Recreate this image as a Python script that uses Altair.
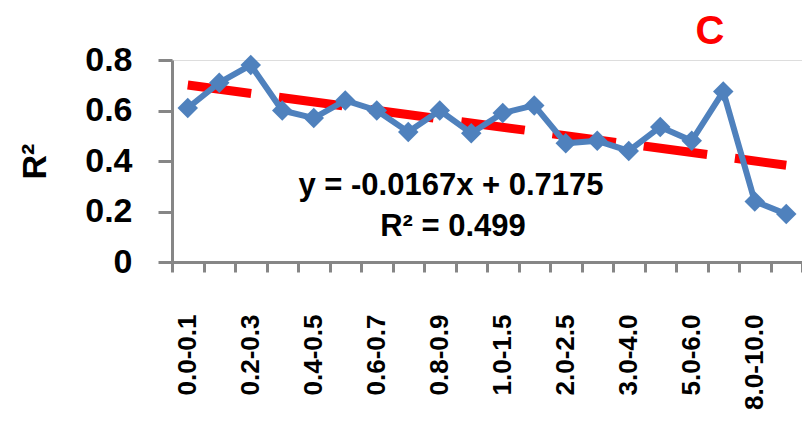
import altair as alt
import pandas as pd

cats = ["0.0-0.1", "0.1-0.2", "0.2-0.3", "0.3-0.4", "0.4-0.5", "0.5-0.6",
        "0.6-0.7", "0.7-0.8", "0.8-0.9", "0.9-1.0", "1.0-1.5", "1.5-2.0",
        "2.0-2.5", "2.5-3.0", "3.0-4.0", "4.0-5.0", "5.0-6.0", "6.0-8.0",
        "8.0-10.0", ">10.0"]
r2 = [0.61, 0.71, 0.78, 0.60, 0.57, 0.64, 0.60, 0.515, 0.60, 0.51,
      0.59, 0.62, 0.47, 0.48, 0.44, 0.535, 0.48, 0.675, 0.24, 0.19]
slope = -0.0167
intercept = 0.7175
eq_lines = ["y = -0.0167x + 0.7175", "R² = 0.499"]
panel_label = "C"
shown_labels = cats[::2]

df = pd.DataFrame({"cat": cats, "r2": r2})
trend = pd.DataFrame({
    "cat": [cats[0], cats[-1]],
    "r2": [slope * 1 + intercept, slope * len(cats) + intercept],
})

FONT = "Liberation Sans"
label_expr = "indexof(" + str(shown_labels) + ", datum.value) >= 0 ? datum.label : ''"

x_enc = alt.X("cat:N", sort=cats,
              scale=alt.Scale(paddingInner=0, paddingOuter=0),
              axis=alt.Axis(title=None, labelAngle=-90, labelAlign="right",
                            labelBaseline="middle", labelFont=FONT,
                            labelFontSize=26, labelFontWeight="bold",
                            labelColor="black", labelPadding=42,
                            tickBand="extent", tickSize=10, tickWidth=3,
                            tickColor="#868686", domainColor="#868686",
                            domainWidth=3, grid=False, labelExpr=label_expr))
y_enc = alt.Y("r2:Q", scale=alt.Scale(domain=[0, 0.8], nice=False),
              axis=alt.Axis(title="R²", values=[0, 0.2, 0.4, 0.6, 0.8],
                            labelExpr="datum.value == 0 ? '0' : format(datum.value, '.1f')",
                            labelFont=FONT, labelFontSize=34, labelFontWeight="bold",
                            labelColor="black", labelPadding=26,
                            titleFont=FONT, titleFontSize=34, titleFontWeight="bold",
                            titleColor="black", titlePadding=32,
                            tickSize=14, tickWidth=3, tickColor="#868686",
                            domainColor="#868686", domainWidth=3, grid=False))

line = alt.Chart(df).mark_line(color="#4F81BD", strokeWidth=6).encode(x=x_enc, y=y_enc)
pts = alt.Chart(df).mark_point(shape="diamond", filled=True, size=420,
                               color="#4F81BD", opacity=1).encode(x=x_enc, y=y_enc)
tl = alt.Chart(trend).mark_line(color="#FF0000", strokeWidth=9,
                                strokeDash=[64, 28], strokeCap="butt").encode(x=x_enc, y=y_enc)

eq_df = pd.DataFrame({"t": [eq_lines[0]]})
eq1 = alt.Chart(eq_df).mark_text(font=FONT, fontSize=31, fontWeight="bold",
                                 color="black", align="center", baseline="middle").encode(
    text="t:N", x=alt.value(279), y=alt.value(126))
eq2_df = pd.DataFrame({"t": [eq_lines[1]]})
eq2 = alt.Chart(eq2_df).mark_text(font=FONT, fontSize=31, fontWeight="bold",
                                  color="black", align="center", baseline="middle").encode(
    text="t:N", x=alt.value(281), y=alt.value(167))
c_df = pd.DataFrame({"t": [panel_label]})
ctext = alt.Chart(c_df).mark_text(font=FONT, fontSize=40, fontWeight="bold",
                                  color="#FF0000", align="center", baseline="middle").encode(
    text="t:N", x=alt.value(538), y=alt.value(-28))

chart = alt.layer(tl, line, pts, eq1, eq2, ctext).properties(
    width=630, height=202,
    autosize=alt.AutoSizeParams(type="none"),
    padding={"left": 164, "top": 52, "right": 0, "bottom": 160},
).configure_view(stroke=None).configure(background="white")

chart.save("out.html", embed_options={"renderer": "svg", "actions": False})
